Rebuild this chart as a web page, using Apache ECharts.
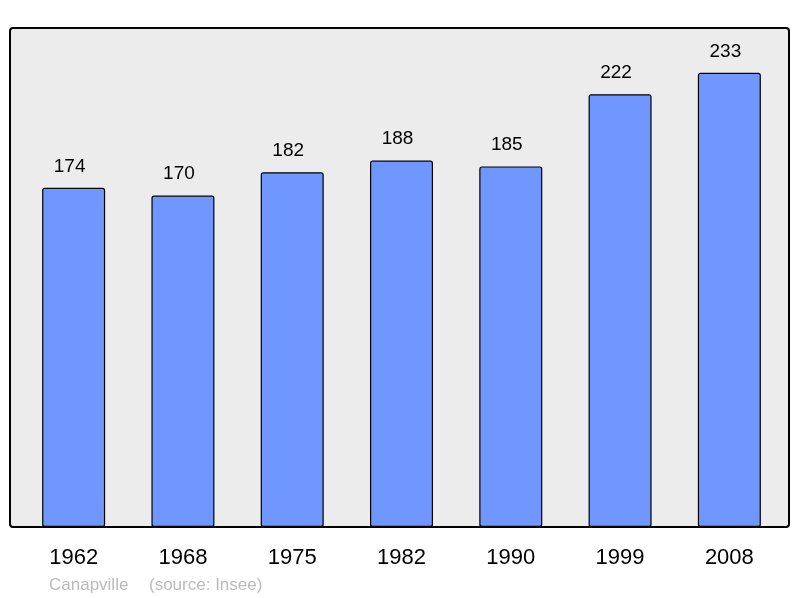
<!DOCTYPE html>
<html>
<head>
<meta charset="utf-8">
<script src="https://cdn.jsdelivr.net/npm/echarts@6/dist/echarts.min.js"></script>
<style>html,body{margin:0;padding:0;background:#fff;}#c{width:800px;height:598px;}</style>
</head>
<body>
<div id="c"></div>
<script>
const years = ['1962', '1968', '1975', '1982', '1990', '1999', '2008'];
const population = [174, 170, 182, 188, 185, 222, 233];
const commune = 'Canapville';
const source = '(source: Insee)';

const chart = echarts.init(document.getElementById('c'), null, {renderer: 'canvas'});
chart.setOption({
  animation: false,
  backgroundColor: '#ffffff',
  graphic: [
    {type: 'rect', z: 0, shape: {x: 10, y: 28, width: 779, height: 499, r: 3},
     style: {fill: '#ececec', stroke: '#000', lineWidth: 2}},
    {type: 'text', left: 49, top: 577, style: {text: commune, fill: '#bbbbbb', font: '17px "Liberation Sans", Arial, sans-serif'}},
    {type: 'text', left: 149, top: 577, style: {text: source, fill: '#bbbbbb', font: '17px "Liberation Sans", Arial, sans-serif'}}
  ],
  grid: {left: 19, right: 16, top: 27, bottom: 71, containLabel: false},
  xAxis: {
    type: 'category', data: years,
    axisLine: {show: false}, axisTick: {show: false},
    axisLabel: {color: '#000', fontSize: 22, fontFamily: '"Liberation Sans", Arial, sans-serif', margin: 20}
  },
  yAxis: {type: 'value', min: 0, max: 256.5, show: false, splitLine: {show: false}},
  series: [{
    type: 'bar', data: population, barWidth: 63, z: 2,
    itemStyle: {color: '#7096ff', borderColor: '#000', borderWidth: 1.2, borderRadius: 2},
    label: {show: true, position: 'top', distance: 12, offset: [-4, 0], color: '#000', fontSize: 19,
      fontFamily: '"Liberation Sans", Arial, sans-serif'}
  }]
});
</script>
</body>
</html>
